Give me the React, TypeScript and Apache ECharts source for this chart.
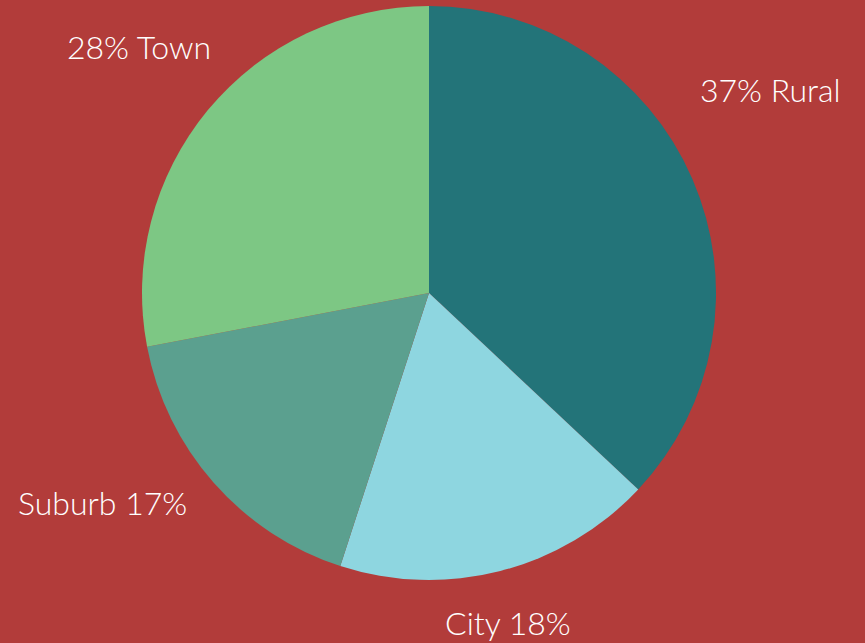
import React, { useEffect, useRef } from "react";
import * as echarts from "echarts";

const categories = ["Rural", "City", "Suburb", "Town"];
const values = [37, 18, 17, 28];
const colors = ["#237479", "#8ED6E0", "#5BA08F", "#7DC784"];
const labelPos = [
  [700, 89],
  [445, 622],
  [18, 502],
  [67, 46],
];
const percentFirst = [true, false, false, true];

export default function App() {
  const ref = useRef<HTMLDivElement>(null);
  useEffect(() => {
    if (!ref.current) return;
    const chart = echarts.init(ref.current, null, { renderer: "svg" });
    chart.setOption({
      animation: false,
      backgroundColor: "#B23C3A",
      series: [
        {
          type: "pie",
          center: [429, 293],
          radius: 287,
          startAngle: 90,
          clockwise: true,
          data: categories.map((c, i) => ({
            name: c,
            value: values[i],
            itemStyle: { color: colors[i] },
          })),
          label: {
            show: true,
            position: "outside",
            color: "#FFFFFF",
            fontFamily: "Lato",
            fontWeight: 300,
            fontSize: 32,
            overflow: "none",
            formatter: (p: any) =>
              percentFirst[p.dataIndex]
                ? `${p.value}% ${p.name}`
                : `${p.name} ${p.value}%`,
          },
          labelLine: { show: false },
          labelLayout: (p: any) => ({
            x: labelPos[p.dataIndex][0],
            y: labelPos[p.dataIndex][1],
            align: "left",
            verticalAlign: "middle",
            width: 300,
          }),
          emphasis: { disabled: true },
        },
      ],
    });
    return () => chart.dispose();
  }, []);
  return (
    <div
      ref={ref}
      style={{ position: "fixed", left: 0, top: 0, width: 865, height: 643 }}
    />
  );
}
